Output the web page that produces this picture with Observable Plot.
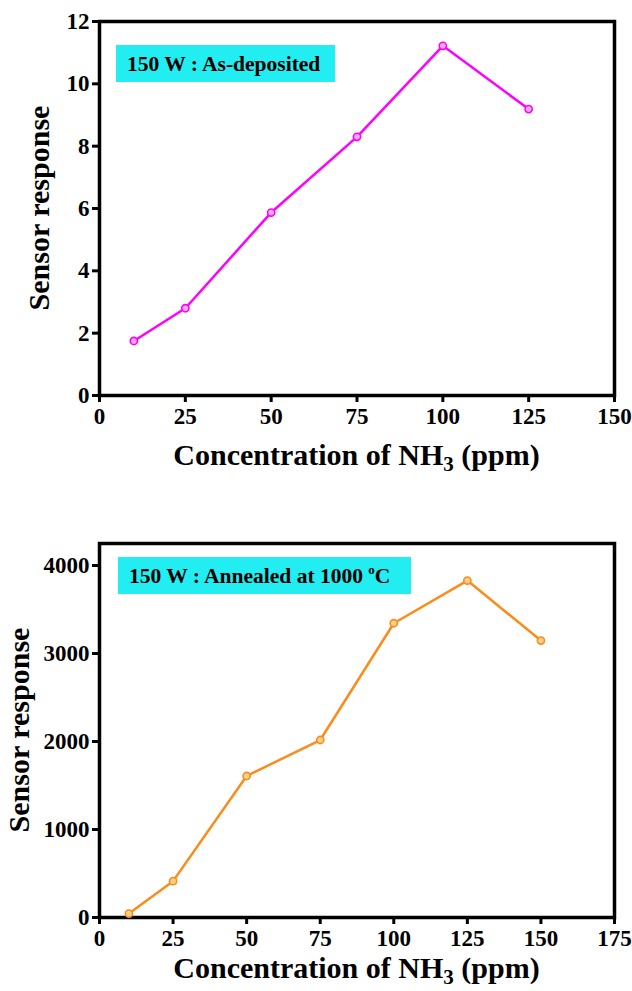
<!DOCTYPE html>
<html><head><meta charset="utf-8">
<script src="https://cdn.jsdelivr.net/npm/d3@7"></script>
<script src="https://cdn.jsdelivr.net/npm/@observablehq/plot@0.6"></script>
<style>
html,body{margin:0;padding:0;background:#fff}
#c{width:632px;height:991px;overflow:hidden}
#c svg{display:block}
</style></head><body><div id="c"></div>
<script>
// Panel A: 150 W as-deposited
const concA = [10, 25, 50, 75, 100, 125];
const respA = [1.75, 2.8, 5.87, 8.3, 11.22, 9.19];
const xTicksA = [0, 25, 50, 75, 100, 125, 150];
const yTicksA = [0, 2, 4, 6, 8, 10, 12];
// Panel B: 150 W annealed at 1000 °C
const concB = [10, 25, 50, 75, 100, 125, 150];
const respB = [45, 413, 1608, 2017, 3344, 3829, 3147];
const xTicksB = [0, 25, 50, 75, 100, 125, 150, 175];
const yTicksB = [0, 1000, 2000, 3000, 4000];
// Texts
const labelA = ["150 W : As-deposited"];
const labelB = ["150 W : Annealed at 1000 ", "o", "C"];
const xTitle = ["Concentration of NH", "3", " (ppm)"];
const yTitle = "Sensor response";

const FONT = "'Liberation Serif','Times New Roman',serif";

function yTitleMark(text, xPos) {
  return (index, scales, values, dim) => {
    const cy = dim.marginTop + (dim.height - dim.marginTop - dim.marginBottom) / 2;
    return d3.create("svg:text")
      .attr("transform", `translate(${xPos},${cy}) rotate(-90)`)
      .attr("text-anchor", "middle").attr("font-size", 30).attr("font-weight", "bold")
      .attr("fill", "black").text(text).node();
  };
}
function xTitleMark(parts, dy) {
  return (index, scales, values, dim) => {
    const cx = dim.marginLeft + (dim.width - dim.marginLeft - dim.marginRight) / 2;
    const t = d3.create("svg:text")
      .attr("x", cx).attr("y", dim.height - dim.marginBottom + dy)
      .attr("text-anchor", "middle").attr("font-size", 30).attr("font-weight", "bold").attr("fill", "black");
    t.append("tspan").text(parts[0]);
    t.append("tspan").attr("dy", 6).attr("font-size", 21).text(parts[1]);
    t.append("tspan").attr("dy", -6).text(parts[2]);
    return t.node();
  };
}
function boxMark(parts, dx, dy, w) {
  return (index, scales, values, dim) => {
    const g = d3.create("svg:g");
    const x0 = dim.marginLeft + dx, y0 = dim.marginTop + dy;
    g.append("rect").attr("x", x0).attr("y", y0).attr("width", w).attr("height", 37).attr("fill", "#22eef2");
    const t = g.append("text").attr("x", x0 + 11).attr("y", y0 + 26)
      .attr("text-anchor", "start")
      .attr("font-size", 21.5).attr("font-weight", "bold").attr("fill", "black");
    t.append("tspan").text(parts[0]);
    if (parts.length > 1) {
      t.append("tspan").attr("dy", -9).attr("font-size", 13).text(parts[1]);
      t.append("tspan").attr("dy", 9).text(parts[2]);
    }
    return g.node();
  };
}

function panel({conc, resp, xTicks, yTicks, xDomain, yDomain, height, marginTop, marginBottom, color, fill, label, boxDx, boxDy, boxW, yTitleX, xTitleDy}) {
  const data = conc.map((c, i) => ({c, r: resp[i]}));
  return Plot.plot({
    width: 632, height,
    marginLeft: 99, marginRight: 18, marginTop, marginBottom,
    style: {fontFamily: FONT, fontWeight: "bold", fontSize: "23px", color: "black", background: "white"},
    x: {domain: xDomain},
    y: {domain: yDomain},
    marks: [
      Plot.axisX(xTicks, {tickSize: 7, tickPadding: 5, strokeWidth: 3, label: null, fontSize: 23, tickFormat: d3.format("d")}),
      Plot.axisY(yTicks, {tickSize: 7, tickPadding: 3, strokeWidth: 3, label: null, fontSize: 23, tickFormat: d3.format("d")}),
      Plot.frame({strokeWidth: 3.5, stroke: "black"}),
      boxMark(label, boxDx, boxDy, boxW),
      Plot.line(data, {x: "c", y: "r", stroke: color, strokeWidth: 2.5}),
      Plot.dot(data, {x: "c", y: "r", r: 3.6, stroke: color, strokeWidth: 1.6, fill}),
      yTitleMark(yTitle, yTitleX),
      xTitleMark(xTitle, xTitleDy)
    ]
  });
}

const c = document.getElementById("c");
c.append(panel({
  conc: concA, resp: respA, xTicks: xTicksA, yTicks: yTicksA,
  xDomain: [0, 150], yDomain: [0, 12], height: 500, marginTop: 21, marginBottom: 105,
  color: "#ff00ff", fill: "#ffaaff", label: labelA, boxDx: 17, boxDy: 24, boxW: 219,
  yTitleX: 49, xTitleDy: 70
}));
c.append(panel({
  conc: concB, resp: respB, xTicks: xTicksB, yTicks: yTicksB,
  xDomain: [0, 175], yDomain: [0, 4250], height: 491, marginTop: 43, marginBottom: 74,
  color: "#fb8c1c", fill: "#ffd08a", label: labelB, boxDx: 19, boxDy: 14, boxW: 293,
  yTitleX: 29, xTitleDy: 61
}));
</script></body></html>
